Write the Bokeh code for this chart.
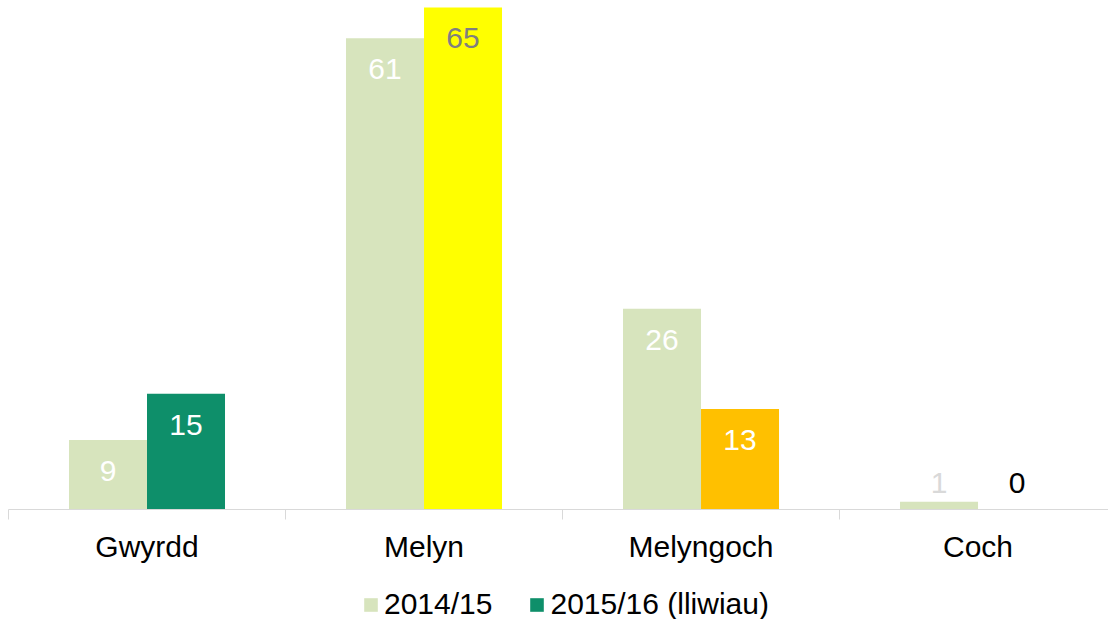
from bokeh.plotting import figure
from bokeh.layouts import column
from bokeh.models import FixedTicker, Legend, LegendItem, Range1d
from bokeh.core.properties import value
from bokeh.embed import file_html
from bokeh.resources import INLINE

# ---- data ----
categories = ["Gwyrdd", "Melyn", "Melyngoch", "Coch"]
series_names = ["2014/15", "2015/16 (lliwiau)"]
values_2014 = [9, 61, 26, 1]
values_2015 = [15, 65, 13, 0]

# ---- styles ----
colors_2014 = ["#D7E4BD", "#D7E4BD", "#D7E4BD", "#D7E4BD"]
colors_2015 = ["#0E8F6A", "#FFFF00", "#FFC000", "#C00000"]
label_colors_2014 = ["white", "white", "white", "#D9D9D9"]
label_colors_2015 = ["white", "#7F7F7F", "white", "black"]

FONT = "Liberation Sans"
xs = list(range(len(categories)))
bw = 0.2816
off = bw / 2
x1 = [i - off for i in xs]
x2 = [i + off for i in xs]

p = figure(frame_width=1100, frame_height=509,
           x_range=Range1d(-0.5, 3.471), y_range=Range1d(0, 65.9),
           output_backend="svg", toolbar_location=None,
           y_axis_location=None,
           min_border_left=8, min_border_right=0, min_border_top=0, min_border_bottom=0)
p.grid.visible = False
p.outline_line_color = None

p.vbar(x=x1, top=values_2014, width=bw, fill_color=colors_2014, line_color=None)
p.vbar(x=x2, top=values_2015, width=bw, fill_color=colors_2015, line_color=None)

def lab_y(v):
    return max(v - 4.0, 3.4)

p.text(x=x1, y=[lab_y(v) for v in values_2014], text=[str(v) for v in values_2014],
       text_align="center", text_baseline="middle", text_font=value(FONT),
       text_font_size="30px", text_color=label_colors_2014)
p.text(x=x2, y=[lab_y(v) for v in values_2015], text=[str(v) for v in values_2015],
       text_align="center", text_baseline="middle", text_font=value(FONT),
       text_font_size="30px", text_color=label_colors_2015)

ax = p.xaxis[0]
ax.ticker = FixedTicker(ticks=xs, minor_ticks=[-0.5, 0.5, 1.5, 2.5, 3.5])
ax.major_label_overrides = {i: c for i, c in zip(xs, categories)}
ax.major_tick_out = 0
ax.major_tick_in = 0
ax.minor_tick_out = 10
ax.minor_tick_in = 0
ax.minor_tick_line_color = "#D9D9D9"
ax.axis_line_color = "#D9D9D9"
ax.major_label_text_font = FONT
ax.major_label_text_font_size = "30px"
ax.major_label_text_color = "black"
ax.major_label_standoff = 10

# ---- legend strip (bars kept out of view; only their legend swatches show) ----
lg = figure(width=1108, height=56, x_range=Range1d(-0.5, 3.471), y_range=Range1d(100, 101),
            output_backend="svg", toolbar_location=None,
            x_axis_location=None, y_axis_location=None,
            min_border_left=0, min_border_right=0, min_border_top=0, min_border_bottom=0)
lg.grid.visible = False
lg.outline_line_color = None
l1 = lg.vbar(x=x1, top=values_2014, width=bw, fill_color=colors_2014, line_color=None)
l2 = lg.vbar(x=x2, top=values_2015, width=bw, fill_color=colors_2015, line_color=None)

legend = Legend(items=[LegendItem(label=series_names[0], renderers=[l1], index=0),
                       LegendItem(label=series_names[1], renderers=[l2], index=0)],
                orientation="horizontal", location=(354, 0),
                label_text_font=FONT, label_text_font_size="30px",
                label_text_color="black",
                glyph_width=17, glyph_height=17, label_standoff=5, spacing=36,
                padding=0, margin=0, border_line_alpha=0, background_fill_alpha=0)
lg.add_layout(legend, "center")

layout = column(p, lg, spacing=0)
open("out.html", "w").write(file_html(layout, INLINE))
